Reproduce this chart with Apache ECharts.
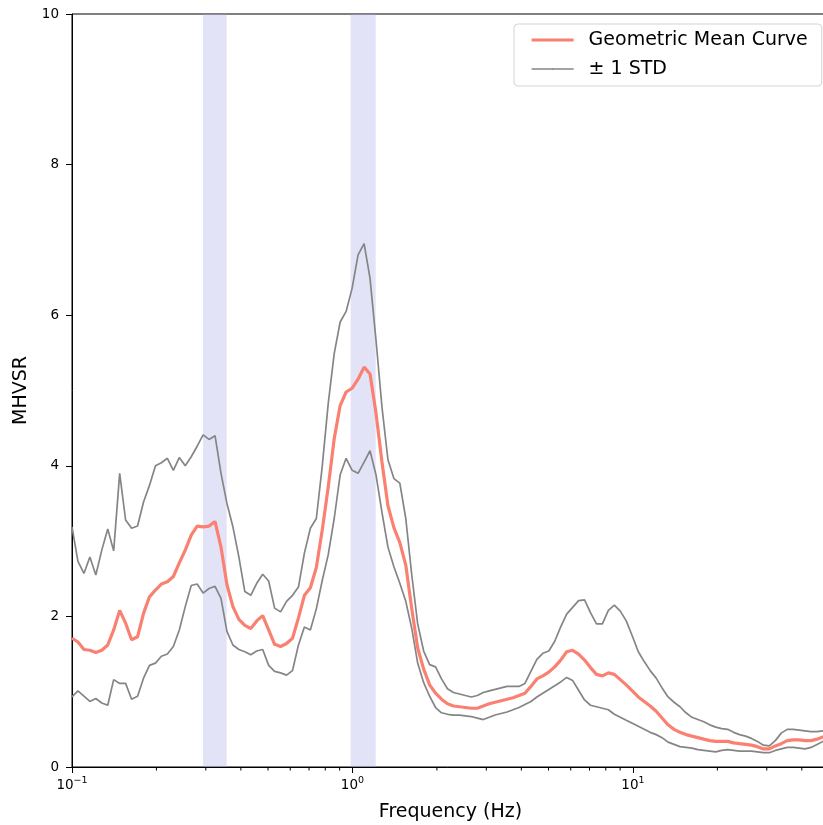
<!DOCTYPE html>
<html><head><meta charset="utf-8">
<script src="https://cdn.jsdelivr.net/npm/echarts@6/dist/echarts.min.js"></script>
<style>html,body{margin:0;padding:0;background:#fff}#c{width:823px;height:825px}</style>
</head><body><div id="c"></div>
<script>
// Frequencies (Hz)
const freq = [
0.1000,0.1050,0.1103,0.1158,0.1216,0.1277,0.1341,0.1408,0.1479,0.1553,
0.1631,0.1713,0.1799,0.1889,0.1984,0.2083,0.2188,0.2298,0.2413,0.2534,
0.2661,0.2794,0.2934,0.3081,0.3236,0.3398,0.3568,0.3747,0.3935,0.4132,
0.4339,0.4557,0.4785,0.5025,0.5277,0.5542,0.5820,0.6111,0.6418,0.6739,
0.7077,0.7432,0.7805,0.8196,0.8607,0.9038,0.9492,0.9973,1.047,1.100,
1.155,1.213,1.274,1.338,1.405,1.475,1.549,1.627,1.708,1.794,
1.884,1.978,2.077,2.181,2.291,2.406,2.526,2.653,2.786,2.926,
3.072,3.226,3.388,3.558,3.736,3.924,4.120,4.327,4.544,4.771,
5.011,5.262,5.526,5.803,6.094,6.399,6.720,7.057,7.411,7.782,
8.172,8.582,9.012,9.464,9.947,10.45,10.97,11.52,12.10,12.70,
13.34,14.01,14.71,15.45,16.22,17.04,17.89,18.79,19.73,20.72,
21.76,22.85,23.99,25.20,26.46,27.79,29.18,30.64,32.18,33.79,
35.48,37.26,39.13,41.09,43.15,45.32,47.59,50.00];

const meanCurve = [
1.71,1.66,1.56,1.55,1.52,1.55,1.62,1.82,2.08,1.91,
1.69,1.73,2.04,2.26,2.35,2.43,2.46,2.53,2.71,2.88,
3.08,3.20,3.19,3.20,3.26,2.92,2.42,2.13,1.96,1.88,
1.84,1.94,2.01,1.82,1.63,1.60,1.64,1.71,1.98,2.28,
2.38,2.65,3.15,3.72,4.36,4.80,4.98,5.03,5.15,5.31,
5.22,4.70,4.05,3.47,3.18,2.98,2.68,2.10,1.58,1.30,
1.09,0.98,0.90,0.84,0.81,0.80,0.79,0.78,0.78,0.81,
0.84,0.86,0.88,0.90,0.92,0.95,0.98,1.07,1.17,1.21,
1.26,1.33,1.42,1.53,1.55,1.50,1.42,1.32,1.23,1.21,
1.25,1.23,1.16,1.09,1.01,0.93,0.87,0.81,0.74,0.65,
0.56,0.50,0.46,0.43,0.41,0.39,0.37,0.35,0.34,0.34,
0.34,0.32,0.31,0.30,0.29,0.27,0.24,0.24,0.28,0.31,
0.35,0.36,0.36,0.35,0.35,0.37,0.40,0.42];

const upperStd = [
3.19,2.73,2.57,2.79,2.55,2.88,3.16,2.87,3.90,3.28,
3.17,3.20,3.52,3.74,4.00,4.04,4.10,3.94,4.11,4.00,
4.12,4.26,4.41,4.35,4.40,3.90,3.50,3.19,2.79,2.33,
2.28,2.44,2.56,2.47,2.11,2.06,2.20,2.28,2.39,2.84,
3.17,3.30,4.00,4.83,5.49,5.91,6.05,6.36,6.80,6.95,
6.49,5.67,4.78,4.08,3.83,3.77,3.30,2.55,1.90,1.54,
1.36,1.33,1.17,1.04,0.99,0.97,0.95,0.93,0.95,0.99,
1.01,1.03,1.05,1.07,1.07,1.07,1.11,1.27,1.43,1.51,
1.54,1.67,1.86,2.03,2.12,2.21,2.22,2.05,1.90,1.90,
2.08,2.15,2.07,1.94,1.74,1.53,1.40,1.28,1.18,1.05,
0.93,0.86,0.80,0.72,0.66,0.63,0.60,0.56,0.53,0.51,
0.50,0.46,0.43,0.41,0.38,0.34,0.29,0.28,0.35,0.45,
0.50,0.50,0.49,0.48,0.47,0.47,0.48,0.49];

const lowerStd = [
0.93,1.01,0.94,0.87,0.91,0.85,0.82,1.16,1.11,1.11,
0.90,0.94,1.18,1.35,1.38,1.47,1.50,1.60,1.82,2.13,
2.41,2.43,2.31,2.37,2.40,2.24,1.80,1.62,1.56,1.53,
1.49,1.54,1.56,1.35,1.27,1.25,1.22,1.28,1.62,1.86,
1.82,2.10,2.48,2.82,3.30,3.88,4.10,3.94,3.90,4.05,
4.20,3.88,3.38,2.92,2.66,2.44,2.20,1.84,1.38,1.12,
0.94,0.79,0.72,0.70,0.69,0.69,0.68,0.67,0.65,0.63,
0.66,0.69,0.71,0.73,0.76,0.79,0.83,0.87,0.93,0.98,
1.03,1.08,1.13,1.19,1.15,1.02,0.89,0.82,0.80,0.78,
0.76,0.70,0.66,0.62,0.58,0.54,0.50,0.46,0.43,0.39,
0.33,0.30,0.27,0.26,0.25,0.23,0.22,0.21,0.20,0.22,
0.23,0.22,0.21,0.21,0.21,0.20,0.19,0.19,0.22,0.24,
0.26,0.26,0.25,0.24,0.26,0.30,0.34,0.37];

// Highlighted frequency bands (Hz)
const bands = [[0.293, 0.356], [0.985, 1.21]];
// Minor log ticks on the x axis
const minorTicks = [0.2,0.3,0.4,0.5,0.6,0.7,0.8,0.9,2,3,4,5,6,7,8,9,20,30,40];

const FONT = 'DejaVu Sans';
const MEAN_COLOR = '#fa8072', STD_COLOR = '#858585';
const pair = arr => freq.map((f, i) => [f, arr[i]]);

const chart = echarts.init(document.getElementById('c'), null, {renderer: 'canvas'});
chart.setOption({
  animation: false,
  backgroundColor: '#fff',
  textStyle: {fontFamily: FONT},
  grid: {left: 72, right: -6, top: 14, bottom: 58, show: true, borderColor: '#000', borderWidth: 1,
         backgroundColor: 'transparent', outerBoundsMode: 'none'},
  legend: {
    orient: 'vertical', left: 514, top: 24,
    data: [
      {name: 'Geometric Mean Curve', lineStyle: {width: 3.2, color: MEAN_COLOR}},
      {name: '± 1 STD', lineStyle: {width: 1.7, color: STD_COLOR}}
    ],
    itemWidth: 42, itemHeight: 2, itemGap: 7,
    padding: [5, 14, 6, 16],
    borderColor: '#d4d4d4', borderWidth: 1, borderRadius: 4,
    backgroundColor: 'rgba(255,255,255,0.8)',
    textStyle: {fontFamily: FONT, fontSize: 19, color: '#000', lineHeight: 22, padding: [0, 0, 0, 10]}
  },
  xAxis: {
    type: 'log', logBase: 10, min: 0.1, max: 50,
    name: 'Frequency (Hz)', nameLocation: 'middle', nameGap: 36,
    nameTextStyle: {fontFamily: FONT, fontSize: 19, color: '#000'},
    axisLine: {show: true, lineStyle: {color: '#000', width: 1}},
    axisTick: {show: true, length: 6, lineStyle: {color: '#000', width: 1}},
    splitLine: {show: false},
    axisLabel: {
      margin: 9, color: '#000', showMaxLabel: false,
      formatter: v => {
        const l = Math.log10(v), e = Math.round(l);
        if (Math.abs(l - e) > 1e-6) return '';
        return '{b|10}{s|' + (e < 0 ? '\u2212' + (-e) : e) + '}';
      },
      rich: {
        b: {fontFamily: FONT, fontSize: 13.5, color: '#000'},
        s: {fontFamily: FONT, fontSize: 9.5, color: '#000', padding: [0, 0, 8, 0]}
      }
    }
  },
  yAxis: {
    type: 'value', min: 0, max: 10, interval: 2,
    name: 'MHVSR', nameLocation: 'middle', nameGap: 40,
    nameTextStyle: {fontFamily: FONT, fontSize: 19, color: '#000'},
    axisLine: {show: true, lineStyle: {color: '#000', width: 1}},
    axisTick: {show: true, length: 6, lineStyle: {color: '#000', width: 1}},
    splitLine: {show: false},
    axisLabel: {margin: 13, fontFamily: FONT, fontSize: 13.5, color: '#000'}
  },
  series: [
    {
      name: 'bands', type: 'line', data: [], z: 1, silent: true,
      markArea: {
        silent: true,
        itemStyle: {color: 'rgba(170,170,235,0.33)'},
        data: bands.map(b => [{xAxis: b[0]}, {xAxis: b[1]}])
      }
    },
    {
      name: 'ticks', type: 'custom', silent: true, clip: false, z: 5,
      data: minorTicks.map(v => [v, 0]),
      renderItem: (params, api) => {
        const p = api.coord([api.value(0), api.value(1)]);
        return {type: 'line', shape: {x1: p[0], y1: p[1], x2: p[0], y2: p[1] + 3.5},
                style: {stroke: '#000', lineWidth: 1}};
      }
    },
    {
      name: '± 1 STD', type: 'line', data: pair(upperStd), showSymbol: false, symbol: 'none',
      z: 3, lineStyle: {color: STD_COLOR, width: 1.7}, itemStyle: {color: STD_COLOR}
    },
    {
      name: '± 1 STD', type: 'line', data: pair(lowerStd), showSymbol: false, symbol: 'none',
      z: 3, lineStyle: {color: STD_COLOR, width: 1.7}, itemStyle: {color: STD_COLOR}
    },
    {
      name: 'Geometric Mean Curve', type: 'line', data: pair(meanCurve), showSymbol: false, symbol: 'none',
      z: 4, lineStyle: {color: MEAN_COLOR, width: 3.2}, itemStyle: {color: MEAN_COLOR}
    }
  ]
});
</script></body></html>
